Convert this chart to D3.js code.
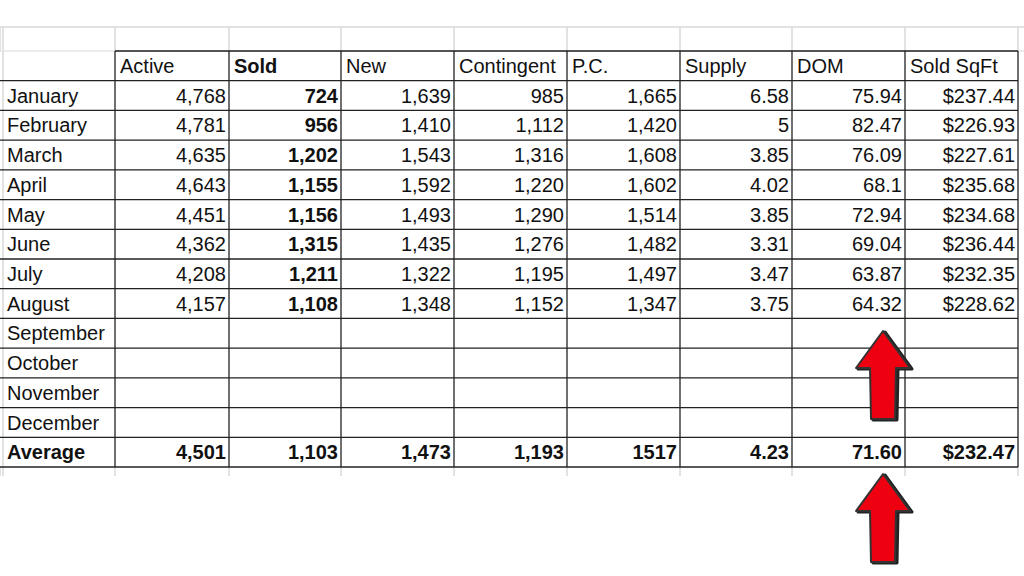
<!DOCTYPE html>
<html><head><meta charset="utf-8">
<script src="https://cdn.jsdelivr.net/npm/d3@7"></script>
<style>body{margin:0;background:#fff}svg{display:block}</style>
</head><body>
<script>
const headers = ["Active","Sold","New","Contingent","P.C.","Supply","DOM","Sold SqFt"];
const months = ["January","February","March","April","May","June","July","August","September","October","November","December"];
const active = ["4,768","4,781","4,635","4,643","4,451","4,362","4,208","4,157"];
const sold = ["724","956","1,202","1,155","1,156","1,315","1,211","1,108"];
const newL = ["1,639","1,410","1,543","1,592","1,493","1,435","1,322","1,348"];
const contingent = ["985","1,112","1,316","1,220","1,290","1,276","1,195","1,152"];
const pc = ["1,665","1,420","1,608","1,602","1,514","1,482","1,497","1,347"];
const supply = ["6.58","5","3.85","4.02","3.85","3.31","3.47","3.75"];
const dom = ["75.94","82.47","76.09","68.1","72.94","69.04","63.87","64.32"];
const sqft = ["$237.44","$226.93","$227.61","$235.68","$234.68","$236.44","$232.35","$228.62"];
const averageLabel = "Average";
const averages = ["4,501","1,103","1,473","1,193","1517","4.23","71.60","$232.47"];

const cols = [active, sold, newL, contingent, pc, supply, dom, sqft];
const W=1024,H=576;
const svg=d3.select("body").append("svg").attr("width",W).attr("height",H);
const colEdges=[0,115,229,341,454,567,680,792,905,1018];
const colX=i=>colEdges[i];
const rowNames=["",...months,averageLabel];
const y=d3.scaleBand().domain(d3.range(rowNames.length)).range([51,467]);
const font="'Liberation Sans', Arial, sans-serif";

const g0=svg.append("g").attr("stroke","#d9d9d9").attr("stroke-width",1.5);
g0.append("line").attr("x1",0).attr("x2",1024).attr("y1",27).attr("y2",27);
colEdges.forEach(x=>{
  g0.append("line").attr("x1",x).attr("x2",x).attr("y1",27).attr("y2",51);
  g0.append("line").attr("x1",x).attr("x2",x).attr("y1",467).attr("y2",476);
});
g0.append("line").attr("x1",3).attr("x2",3).attr("y1",27).attr("y2",476);
g0.append("line").attr("x1",0).attr("x2",1024).attr("y1",51).attr("y2",51).attr("stroke","#e4e4e4");

const g=svg.append("g").attr("stroke","#222").attr("stroke-width",1.3);
rowNames.forEach((_,r)=>{
  const yy=y(r);
  g.append("line").attr("x1",r===0?115:0).attr("x2",1018).attr("y1",yy).attr("y2",yy);
});
g.append("line").attr("x1",0).attr("x2",1018).attr("y1",467).attr("y2",467);
colEdges.slice(1).forEach(x=>{
  g.append("line").attr("x1",x).attr("x2",x).attr("y1",51).attr("y2",467);
});

const t=svg.append("g").attr("font-family",font).attr("font-size",20).attr("fill","#111");
headers.forEach((h,i)=>{
  t.append("text").attr("x",colX(i+1)+5).attr("y",y(0)+y.bandwidth()/2).attr("dy","0.36em")
   .attr("font-weight",i===1?"bold":"normal").text(h);
});
rowNames.slice(1).forEach((m,k)=>{
  const r=k+1;
  const isAvg = r===rowNames.length-1;
  t.append("text").attr("x",7).attr("y",y(r)+y.bandwidth()/2).attr("dy","0.36em")
   .attr("font-weight",isAvg?"bold":"normal").text(m);
  cols.forEach((c,i)=>{
    const v = isAvg ? averages[i] : c[k];
    if(v===undefined) return;
    t.append("text").attr("x",colX(i+2)-3).attr("y",y(r)+y.bandwidth()/2).attr("dy","0.36em")
     .attr("text-anchor","end").attr("font-weight",(isAvg||i===1)?"bold":"normal").text(v);
  });
});

function arrow(tipX,tipY){
  const p=[[tipX,tipY],[tipX+27,tipY+37],[tipX+13,tipY+37],[tipX+12,tipY+88],[tipX-12,tipY+88],[tipX-13,tipY+37],[tipX-27,tipY+37]];
  const line=d3.line();
  svg.append("path").attr("d",line(p)+"Z").attr("transform","translate(2,1)").attr("fill","#222").attr("stroke","#222").attr("stroke-width",3).attr("stroke-linejoin","round");
  svg.append("path").attr("d",line(p)+"Z").attr("fill","#ee0010").attr("stroke","#333").attr("stroke-width",2).attr("stroke-linejoin","round");
}
arrow(883,331);
arrow(883,474);
</script>
</body></html>
